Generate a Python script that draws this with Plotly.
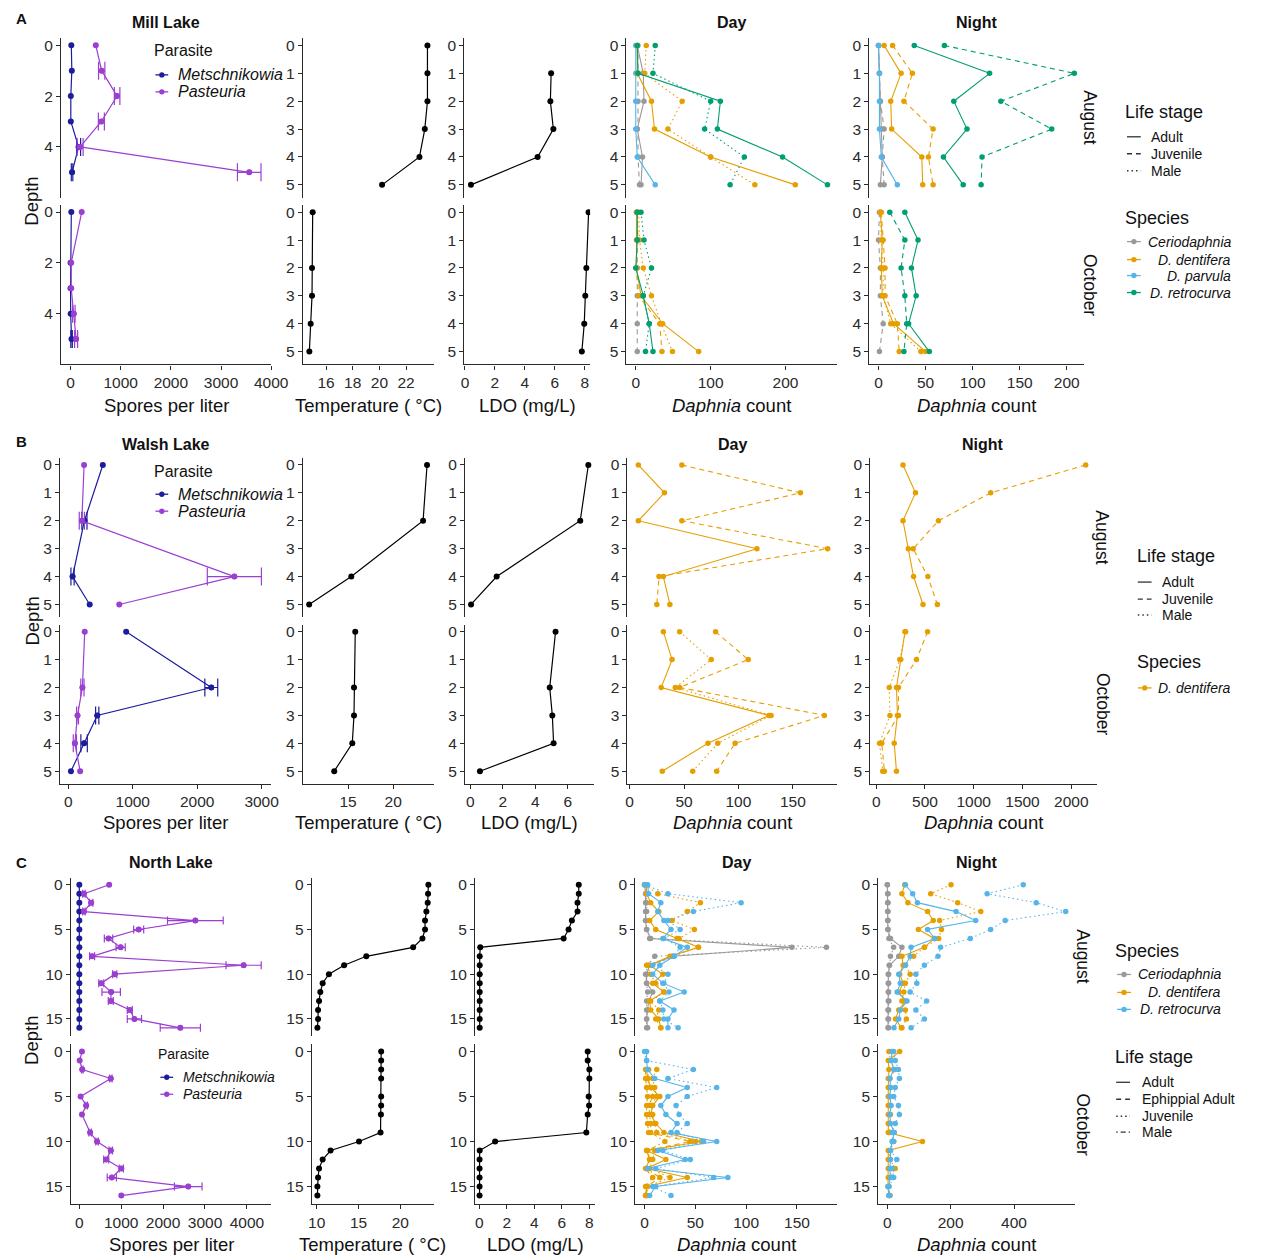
import plotly.graph_objects as go

# ------------------------------------------------------------------
# Depth-profile data
# ------------------------------------------------------------------
MILL_DEPTHS = [0, 1, 2, 3, 4, 5]
MILL_OCT_DEPTHS = [0, 2, 3, 4, 5]
MILL_AUG_LDO_DEPTHS = [1, 2, 3, 4, 5]

MILL_SPORES_AUG_METSCH = [15, 25, 5, 5, 160, 30]
MILL_SPORES_AUG_METSCH_SE = [0, 0, 0, 0, 40, 15]
MILL_SPORES_AUG_PAST = [503, 621, 928, 614, 190, 3562]
MILL_SPORES_AUG_PAST_SE = [0, 63, 55, 60, 60, 235]
MILL_SPORES_OCT_METSCH = [15, 0, 0, 2, 20]
MILL_SPORES_OCT_METSCH_SE = [0, 0, 0, 0, 15]
MILL_SPORES_OCT_PAST = [222, 13, 13, 65, 111]
MILL_SPORES_OCT_PAST_SE = [0, 0, 0, 25, 30]

MILL_TEMP_AUG = [23.6, 23.6, 23.6, 23.4, 23.0, 20.2]
MILL_TEMP_OCT = [15.0, 14.95, 14.95, 14.85, 14.75]
MILL_LDO_AUG = [5.75, 5.7, 5.9, 4.85, 0.4]
MILL_LDO_OCT = [8.25, 8.1, 8.03, 7.96, 7.8]

MILL_DAY_AUG = {
    ("Ceriodaphnia", "Adult"): [2, 10, 11, 2, 9, 7],
    ("Ceriodaphnia", "Juvenile"): [3, 3, 3, 2, 3, 5],
    ("D. parvula", "Adult"): [0, 0, 0, 0, 2, 26],
    ("D. dentifera", "Male"): [14, 12, 62, 43, 100, 159],
    ("D. dentifera", "Adult"): [2, 2, 21, 25, 100, 213],
    ("D. retrocurva", "Male"): [26, 23, 100, 92, 145, 126],
    ("D. retrocurva", "Adult"): [2, 3, 113, 109, 196, 256],
}
MILL_DAY_OCT = {
    ("Ceriodaphnia", "Juvenile"): [1, 2, 2, 2, 2, 2],
    ("D. dentifera", "Juvenile"): [2, 3, 1, 4, 32, 35],
    ("D. dentifera", "Male"): [4, 5, 10, 21, 34, 49],
    ("D. dentifera", "Adult"): [1, 1, 1, 7, 36, 84],
    ("D. retrocurva", "Male"): [7, 11, 21, 10, 18, 13],
    ("D. retrocurva", "Adult"): [2, 2, 0, 10, 18, 23],
}
MILL_NIGHT_AUG = {
    ("Ceriodaphnia", "Adult"): [0, 1, 2, 3, 4, 2],
    ("Ceriodaphnia", "Juvenile"): [0, 1, 2, 6, 4, 6],
    ("D. parvula", "Adult"): [0, 1, 1, 1, 3, 20],
    ("D. dentifera", "Adult"): [6, 24, 13, 14, 46, 47],
    ("D. dentifera", "Juvenile"): [15, 36, 27, 58, 53, 58],
    ("D. retrocurva", "Adult"): [38, 118, 80, 94, 69, 90],
    ("D. retrocurva", "Juvenile"): [70, 208, 130, 184, 110, 109],
}
MILL_NIGHT_OCT = {
    ("Ceriodaphnia", "Juvenile"): [1, 0, 2, 2, 5, 1],
    ("D. dentifera", "Male"): [2, 3, 5, 5, 13, 45],
    ("D. dentifera", "Juvenile"): [3, 5, 7, 7, 20, 22],
    ("D. dentifera", "Adult"): [2, 4, 3, 4, 16, 50],
    ("D. retrocurva", "Juvenile"): [12, 28, 24, 28, 30, 27],
    ("D. retrocurva", "Adult"): [28, 42, 35, 40, 32, 54],
}

WALSH_DEPTHS = [0, 1, 2, 3, 4, 5]
WALSH_AUG_DEPTHS = [0, 2, 4, 5]
WALSH_OCT_DEPTHS = [0, 2, 3, 4, 5]

WALSH_SPORES_AUG_METSCH = [536, 250, 66, 332]
WALSH_SPORES_AUG_METSCH_SE = [0, 40, 25, 0]
WALSH_SPORES_AUG_PAST = [245, 210, 2577, 791]
WALSH_SPORES_AUG_PAST_SE = [0, 40, 420, 0]
WALSH_SPORES_OCT_METSCH = [898, 2219, 449, 245, 41]
WALSH_SPORES_OCT_METSCH_SE = [0, 100, 25, 50, 0]
WALSH_SPORES_OCT_PAST = [255, 219, 143, 102, 184]
WALSH_SPORES_OCT_PAST_SE = [0, 25, 15, 25, 0]

WALSH_TEMP_AUG = [23.76, 23.32, 15.36, 10.69]
WALSH_TEMP_OCT = [15.8, 15.66, 15.66, 15.47, 13.47]
WALSH_LDO_AUG = [7.27, 6.77, 1.62, 0.04]
WALSH_LDO_OCT = [5.25, 4.89, 5.05, 5.13, 0.59]

WALSH_DAY_AUG = {
    ("D. dentifera", "Adult"): [8, 32, 8, 117, 31, 37],
    ("D. dentifera", "Juvenile"): [48, 157, 48, 182, 27, 25],
}
WALSH_DAY_OCT = {
    ("D. dentifera", "Adult"): [31, 39, 29, 128, 72, 30],
    ("D. dentifera", "Male"): [46, 75, 42, 130, 81, 58],
    ("D. dentifera", "Juvenile"): [79, 109, 46, 179, 97, 80],
}
WALSH_NIGHT_AUG = {
    ("D. dentifera", "Adult"): [275, 403, 275, 329, 383, 480],
    ("D. dentifera", "Juvenile"): [2148, 1174, 638, 379, 530, 627],
}
WALSH_NIGHT_OCT = {
    ("D. dentifera", "Adult"): [295, 252, 208, 218, 185, 208],
    ("D. dentifera", "Juvenile"): [527, 413, 228, 228, 57, 84],
    ("D. dentifera", "Male"): [302, 242, 134, 141, 34, 67],
}

NORTH_DEPTHS = [0, 1, 2, 3, 4, 5, 6, 7, 8, 9, 10, 11, 12, 13, 14, 15, 16]
NORTH_OCT_DEPTHS = [0, 1, 2, 3, 5, 6, 7, 9, 10, 11, 12, 13, 14, 15, 16]

NORTH_SPORES_AUG_METSCH = [0, 0, 0, 0, 0, 0, 0, 0, 0, 0, 0, 0, 0, 0, 0, 0, 0]
NORTH_SPORES_AUG_PAST = [712, 110, 282, 110, 2770, 1417, 697, 986, 305, 3922,
                         845, 524, 760, 751, 1205, 1315, 2411]
NORTH_SPORES_AUG_PAST_SE = [0, 30, 40, 30, 665, 120, 100, 110, 60, 420,
                            50, 60, 220, 60, 60, 170, 480]
NORTH_SPORES_OCT_PAST = [63, 8, 70, 751, 31, 164, 63, 258, 423, 751,
                         642, 1002, 775, 2600, 1002]
NORTH_SPORES_OCT_PAST_SE = [0, 0, 20, 30, 0, 30, 0, 30, 30, 40,
                            60, 50, 110, 330, 0]

NORTH_TEMP_AUG = [23.36, 23.32, 23.28, 23.12, 22.96, 22.96, 22.65, 21.54, 15.93,
                  13.28, 11.46, 10.71, 10.43, 10.28, 10.16, 10.16, 10.08]
NORTH_TEMP_OCT = [17.71, 17.71, 17.71, 17.71, 17.71, 17.71, 17.68, 17.64, 15.06,
                  11.66, 10.71, 10.28, 10.16, 10.08, 10.08]
NORTH_LDO_AUG = [7.23, 7.23, 7.14, 7.14, 6.73, 6.49, 6.13, 0.07, 0.03,
                 0.03, 0.03, 0.03, 0.03, 0.03, 0.03, 0.03, 0.03]
NORTH_LDO_OCT = [7.88, 7.88, 8.0, 8.0, 7.95, 7.98, 7.88, 7.78, 1.15,
                 0.03, 0.02, 0.02, 0.02, 0.02, 0.02]

NORTH_DAY_AUG = {
    ("Ceriodaphnia", "Adult"): [0, 1, 1, 1, 1, 2, 6, 145, 28, 5, 2, 2, 8, 4, 3, 2, 3],
    ("Ceriodaphnia", "Juvenile"): [0, 2, 2, 2, 1, 2, 5, 179, 10, 3, 1, 2, 3, 2, 2, 2, 2],
    ("D. dentifera", "Juvenile"): [0, 13, 55, 42, 27, 49, 34, 53, 27, 2, 6, 11, 19, 6, 14, 11, 16],
    ("D. dentifera", "Adult"): [2, 2, 6, 14, 5, 11, 32, 53, 25, 5, 18, 8, 19, 5, 6, 14, 16],
    ("D. retrocurva", "Juvenile"): [0, 23, 95, 48, 23, 35, 19, 35, 29, 8, 23, 19, 24, 15, 18, 19, 33],
    ("D. retrocurva", "Adult"): [3, 4, 16, 13, 19, 26, 18, 42, 29, 15, 8, 18, 39, 15, 29, 23, 23],
}
NORTH_DAY_OCT = {
    ("D. dentifera", "Ephippial Adult"): [None, None, 1, 1, 2, 3, 2, 2, 3, 4, 45, 2, 5, 1, 8, 1, 1],
    ("D. dentifera", "Juvenile"): [None, None, 12, 8, 10, 12, 7, 8, 10, 12, 50, 10, 8, 5, 25, 3, 2],
    ("D. dentifera", "Male"): [None, None, 4, 3, 6, 8, 4, 5, 6, 6, 20, 3, 5, 2, 15, 2, 1],
    ("D. dentifera", "Adult"): [None, None, 2, 3, 6, 15, 8, 6, 11, 19, 56, 2, 21, 2, 42, 2, 2],
    ("D. retrocurva", "Juvenile"): [0, 2, 48, 23, 71, 42, 31, 34, 42, 32, 58, 18, 45, 11, 68, 8, 26],
    ("D. retrocurva", "Adult"): [2, 2, 3, 10, 42, 23, 16, 21, 32, 26, 71, 13, 40, 3, 82, 11, 5],
}
NORTH_NIGHT_AUG = {
    ("Ceriodaphnia", "Adult"): [0, 1, 1, 1, 1, 2, 10, 46, 36, 7, 3, 3, 3, 3, 2, 2, 2],
    ("Ceriodaphnia", "Juvenile"): [0, 2, 2, 2, 2, 2, 5, 20, 10, 6, 4, 4, 4, 5, 4, 4, 4],
    ("D. dentifera", "Juvenile"): [201, 137, 222, 295, 165, 171, 162, 117, 83, 57, 72, 57, 52, 46, 57, 60, 46],
    ("D. dentifera", "Adult"): [55, 46, 65, 127, 145, 98, 148, 117, 46, 50, 39, 50, 36, 57, 36, 26, 44],
    ("D. retrocurva", "Juvenile"): [429, 315, 470, 563, 372, 326, 262, 168, 160, 117, 90, 93, 72, 124, 90, 117, 75],
    ("D. retrocurva", "Adult"): [57, 80, 95, 217, 279, 127, 150, 75, 72, 57, 36, 41, 31, 62, 41, 36, 21],
}
NORTH_NIGHT_OCT = {
    ("D. dentifera", "Juvenile"): [5, 10, 25, 8, 10, 5, 8, 10, 5, 8, 20, 5, 8, 25, 8, 5, 8],
    ("D. dentifera", "Adult"): [39, 3, 5, 3, 3, 3, 3, 3, 3, 3, 111, 3, 3, 3, 3, 2, 5],
    ("D. retrocurva", "Juvenile"): [20, 25, 35, 38, 25, 20, 35, 38, 25, 15, 20, 10, 30, 15, 20, 5, 8],
    ("D. retrocurva", "Adult"): [15, 12, 20, 8, 10, 8, 12, 8, 10, 22, 15, 10, 10, 8, 10, 2, 5],
}

# tick labels
TICKS_MILL_X = [[0, 1000, 2000, 3000, 4000], [16, 18, 20, 22], [0, 2, 4, 6, 8], [0, 100, 200], [0, 50, 100, 150, 200]]
TICKS_WALSH_X = [[0, 1000, 2000, 3000], [15, 20], [0, 2, 4, 6], [0, 50, 100, 150], [0, 500, 1000, 1500, 2000]]
TICKS_NORTH_X = [[0, 1000, 2000, 3000, 4000], [10, 15, 20], [0, 2, 4, 6, 8], [0, 50, 100, 150], [0, 200, 400]]
TICKS_DEPTH_5 = [0, 1, 2, 3, 4, 5]
TICKS_DEPTH_5_SPARSE = [0, 2, 4]
TICKS_DEPTH_16 = [0, 5, 10, 15]

# ------------------------------------------------------------------
# Styling
# ------------------------------------------------------------------
W, H = 1262, 1258
FONT = "Liberation Sans, Arial, Helvetica, sans-serif"
TXT = "#111111"
AXC = "#2b2b2b"
METSCH = "#1c1c9c"
PAST = "#9b3fd0"
SPECIES_COLORS = {"Ceriodaphnia": "#999999", "D. dentifera": "#E69F00",
                  "D. parvula": "#56B4E9", "D. retrocurva": "#009E73"}
NORTH_COLORS = {"Ceriodaphnia": "#999999", "D. dentifera": "#E69F00",
                "D. retrocurva": "#56B4E9"}
DASH3 = {"Adult": "solid", "Juvenile": "5px,4px", "Male": "1.5px,3px"}
DASH4 = {"Adult": "solid", "Ephippial Adult": "5px,4px", "Juvenile": "1.5px,3px",
         "Male": "1.5px,3px,5px,3px"}

GEOM = [
    dict(rows=[(36, 196), (203, 363)],
         cols=[(58, 272), (304, 437), (468, 596), (633, 847), (880, 1098)],
         xr=[[-190, 4006], [14.27, 24.07], [-0.05, 8.35], [-12.4, 268.6], [-9.7, 218]],
         yr=[[6.0, -0.29]] + [[5.46, -0.27]] * 4,
         ytv=[TICKS_DEPTH_5_SPARSE] + [TICKS_DEPTH_5] * 4,
         xtv=TICKS_MILL_X),
    dict(rows=[(457, 616), (624, 783)],
         cols=[(57, 272), (304, 437), (469, 600), (634, 847), (881, 1111)],
         xr=[[-128, 3153], [10.0, 24.5], [-0.32, 7.62], [-2, 190.5], [-60, 2259]],
         yr=[[5.45, -0.24]] * 5,
         ytv=[TICKS_DEPTH_5] * 5,
         xtv=TICKS_WALSH_X),
    dict(rows=[(877, 1036), (1044, 1204)],
         cols=[(68, 272), (313, 437), (479, 601), (642, 847), (889, 1089)],
         xr=[[-202, 4587], [9.41, 24.0], [-0.31, 8.41], [-9.1, 189.3], [-28.8, 592]],
         yr=[[16.95, -0.8]] * 5,
         ytv=[TICKS_DEPTH_16] * 5,
         xtv=TICKS_NORTH_X),
]

fig = go.Figure()
layout = {}


def ids(li, r, c):
    n = li * 10 + r * 5 + c + 1
    return ("x" if n == 1 else f"x{n}"), ("y" if n == 1 else f"y{n}"), n


for li, g in enumerate(GEOM):
    for r in range(2):
        for c in range(5):
            xid, yid, n = ids(li, r, c)
            x0, x1 = g["cols"][c]
            y0, y1 = g["rows"][r]
            bottom = r == 1
            layout["xaxis" if n == 1 else f"xaxis{n}"] = dict(
                domain=[x0 / W, x1 / W], anchor=yid, range=g["xr"][c],
                showgrid=False, zeroline=False, showline=bottom, linecolor=AXC,
                linewidth=1.2, ticks="outside" if bottom else "", ticklen=4,
                tickcolor=AXC, tickwidth=1.1, tickmode="array", tickvals=g["xtv"][c],
                showticklabels=bottom,
                tickfont=dict(size=15.5, family=FONT, color="#2a2a2a"))
            layout["yaxis" if n == 1 else f"yaxis{n}"] = dict(
                domain=[1 - y1 / H, 1 - y0 / H], anchor=xid, range=g["yr"][c],
                showgrid=False, zeroline=False, showline=True, linecolor=AXC,
                linewidth=1.2, ticks="outside", ticklen=4, tickcolor=AXC, tickwidth=1.1,
                tickmode="array", tickvals=g["ytv"][c],
                tickfont=dict(size=15.5, family=FONT, color="#2a2a2a"))


def add_line(li, r, c, xs, ys, color, dash="solid", size=5.5, width=1.2):
    xa, ya, _ = ids(li, r, c)
    fig.add_trace(go.Scatter(
        x=xs, y=ys, xaxis=xa, yaxis=ya, mode="lines+markers", connectgaps=False,
        line=dict(color=color, width=width, dash=dash),
        marker=dict(color=color, size=size), showlegend=False, hoverinfo="skip"))


def add_err(li, r, c, xs, ys, se, color, cap):
    xa, ya, _ = ids(li, r, c)
    keep = [(x, y, e) for x, y, e in zip(xs, ys, se) if e]
    if not keep:
        return
    fig.add_trace(go.Scatter(
        x=[k[0] for k in keep], y=[k[1] for k in keep], xaxis=xa, yaxis=ya,
        mode="markers", marker=dict(color=color, size=5.5),
        error_x=dict(type="data", array=[k[2] for k in keep], symmetric=True,
                     color=color, thickness=1.2, width=cap),
        showlegend=False, hoverinfo="skip"))


def add_spores(li, r, depths, vals, se, color, cap):
    add_line(li, r, 0, vals, depths, color, size=6)
    add_err(li, r, 0, vals, depths, se, color, cap)


def add_counts(li, r, c, depths, table, colors, dashes):
    for (sp, st), vals in table.items():
        add_line(li, r, c, vals, depths, colors[sp], dashes[st], size=5.5, width=1.1)


# Mill Lake
add_spores(0, 0, MILL_DEPTHS, MILL_SPORES_AUG_METSCH, MILL_SPORES_AUG_METSCH_SE, METSCH, 9)
add_spores(0, 0, MILL_DEPTHS, MILL_SPORES_AUG_PAST, MILL_SPORES_AUG_PAST_SE, PAST, 9)
add_spores(0, 1, MILL_OCT_DEPTHS, MILL_SPORES_OCT_METSCH, MILL_SPORES_OCT_METSCH_SE, METSCH, 9)
add_spores(0, 1, MILL_OCT_DEPTHS, MILL_SPORES_OCT_PAST, MILL_SPORES_OCT_PAST_SE, PAST, 9)
add_line(0, 0, 1, MILL_TEMP_AUG, MILL_DEPTHS, "#000000", size=6)
add_line(0, 1, 1, MILL_TEMP_OCT, MILL_OCT_DEPTHS, "#000000", size=6)
add_line(0, 0, 2, MILL_LDO_AUG, MILL_AUG_LDO_DEPTHS, "#000000", size=6)
add_line(0, 1, 2, MILL_LDO_OCT, MILL_OCT_DEPTHS, "#000000", size=6)
add_counts(0, 0, 3, MILL_DEPTHS, MILL_DAY_AUG, SPECIES_COLORS, DASH3)
add_counts(0, 1, 3, MILL_DEPTHS, MILL_DAY_OCT, SPECIES_COLORS, DASH3)
add_counts(0, 0, 4, MILL_DEPTHS, MILL_NIGHT_AUG, SPECIES_COLORS, DASH3)
add_counts(0, 1, 4, MILL_DEPTHS, MILL_NIGHT_OCT, SPECIES_COLORS, DASH3)

# Walsh Lake
add_spores(1, 0, WALSH_AUG_DEPTHS, WALSH_SPORES_AUG_METSCH, WALSH_SPORES_AUG_METSCH_SE, METSCH, 9)
add_spores(1, 0, WALSH_AUG_DEPTHS, WALSH_SPORES_AUG_PAST, WALSH_SPORES_AUG_PAST_SE, PAST, 9)
add_spores(1, 1, WALSH_OCT_DEPTHS, WALSH_SPORES_OCT_METSCH, WALSH_SPORES_OCT_METSCH_SE, METSCH, 9)
add_spores(1, 1, WALSH_OCT_DEPTHS, WALSH_SPORES_OCT_PAST, WALSH_SPORES_OCT_PAST_SE, PAST, 9)
add_line(1, 0, 1, WALSH_TEMP_AUG, WALSH_AUG_DEPTHS, "#000000", size=6)
add_line(1, 1, 1, WALSH_TEMP_OCT, WALSH_OCT_DEPTHS, "#000000", size=6)
add_line(1, 0, 2, WALSH_LDO_AUG, WALSH_AUG_DEPTHS, "#000000", size=6)
add_line(1, 1, 2, WALSH_LDO_OCT, WALSH_OCT_DEPTHS, "#000000", size=6)
add_counts(1, 0, 3, WALSH_DEPTHS, WALSH_DAY_AUG, SPECIES_COLORS, DASH3)
add_counts(1, 1, 3, WALSH_DEPTHS, WALSH_DAY_OCT, SPECIES_COLORS, DASH3)
add_counts(1, 0, 4, WALSH_DEPTHS, WALSH_NIGHT_AUG, SPECIES_COLORS, DASH3)
add_counts(1, 1, 4, WALSH_DEPTHS, WALSH_NIGHT_OCT, SPECIES_COLORS, DASH3)

# North Lake
add_spores(2, 0, NORTH_DEPTHS, NORTH_SPORES_AUG_METSCH, [], METSCH, 4)
add_spores(2, 0, NORTH_DEPTHS, NORTH_SPORES_AUG_PAST, NORTH_SPORES_AUG_PAST_SE, PAST, 4)
add_spores(2, 1, NORTH_OCT_DEPTHS, NORTH_SPORES_OCT_PAST, NORTH_SPORES_OCT_PAST_SE, PAST, 4)
add_line(2, 0, 1, NORTH_TEMP_AUG, NORTH_DEPTHS, "#000000", size=6)
add_line(2, 1, 1, NORTH_TEMP_OCT, NORTH_OCT_DEPTHS, "#000000", size=6)
add_line(2, 0, 2, NORTH_LDO_AUG, NORTH_DEPTHS, "#000000", size=6)
add_line(2, 1, 2, NORTH_LDO_OCT, NORTH_OCT_DEPTHS, "#000000", size=6)
add_counts(2, 0, 3, NORTH_DEPTHS, NORTH_DAY_AUG, NORTH_COLORS, DASH4)
add_counts(2, 1, 3, NORTH_DEPTHS, NORTH_DAY_OCT, NORTH_COLORS, DASH4)
add_counts(2, 0, 4, NORTH_DEPTHS, NORTH_NIGHT_AUG, NORTH_COLORS, DASH4)
add_counts(2, 1, 4, NORTH_DEPTHS, NORTH_NIGHT_OCT, NORTH_COLORS, DASH4)

# ------------------------------------------------------------------
# Text: titles, axis titles, strips, legends
# ------------------------------------------------------------------
annotations = []
shapes = []


def text(x, y, s, size, anchor="left", angle=0, color=TXT):
    annotations.append(dict(
        x=x / W, y=1 - y / H, xref="paper", yref="paper", text=s, showarrow=False,
        xanchor=anchor, yanchor="middle", textangle=angle,
        font=dict(size=size, family=FONT, color=color)))


def key(x0, x1, y, color, dash="solid", dot=True):
    shapes.append(dict(type="line", xref="paper", yref="paper", x0=x0 / W, x1=x1 / W,
                       y0=1 - y / H, y1=1 - y / H, line=dict(color=color, width=1.3, dash=dash)))
    if dot:
        xm, rr = (x0 + x1) / 2, 2.7
        shapes.append(dict(type="circle", xref="paper", yref="paper",
                           x0=(xm - rr) / W, x1=(xm + rr) / W,
                           y0=1 - (y + rr) / H, y1=1 - (y - rr) / H,
                           fillcolor=color, line=dict(width=0)))


LAKE_TITLES = ["Mill Lake", "Walsh Lake", "North Lake"]
PANEL_LETTERS = ["A", "B", "C"]
TITLE_Y = [21, 443, 862]
LETTER_Y = [17, 440, 862]
XTITLE_Y = [404, 822, 1244]
STRIP_X = [1105, 1117, 1097]
XTITLES = ["Spores per liter", "Temperature ( °C)", "LDO (mg/L)",
           "<i>Daphnia</i> count", "<i>Daphnia</i> count"]

for li, g in enumerate(GEOM):
    cx = [(a + b) / 2 for a, b in g["cols"]]
    text(18, LETTER_Y[li], "<b>" + PANEL_LETTERS[li] + "</b>", 15, anchor="center")
    text(cx[0], TITLE_Y[li], "<b>" + LAKE_TITLES[li] + "</b>", 16, anchor="center")
    text(cx[3], TITLE_Y[li], "<b>Day</b>", 16, anchor="center")
    text(cx[4], TITLE_Y[li], "<b>Night</b>", 16, anchor="center")
    for c in range(5):
        text(cx[c], XTITLE_Y[li], XTITLES[c], 18.5, anchor="center")
    r0, r1 = g["rows"]
    text(28, (r0[1] + r1[0]) / 2, "Depth", 18.5, anchor="center", angle=-90)
    text(STRIP_X[li], (r0[0] + r0[1]) / 2, "August", 17.5, anchor="center", angle=90)
    text(STRIP_X[li], (r1[0] + r1[1]) / 2, "October", 17.5, anchor="center", angle=90)

# Parasite legends
for (tx, ty, ky, size) in [(152, 49, (73, 90), 16), (152, 470, (493, 510), 16),
                           (157, 1054, (1077, 1094), 14)]:
    text(tx - 2, ty, "Parasite", size)
    key(tx + 2, tx + 15, ky[0], METSCH)
    key(tx + 2, tx + 15, ky[1], PAST)
    text(tx + 23, ky[0], "<i>Metschnikowia</i>", size)
    text(tx + 23, ky[1], "<i>Pasteuria</i>", size)

# Mill Lake legend
text(1138, 110, "Life stage", 18)
for y, st in zip([135, 152, 169], ["Adult", "Juvenile", "Male"]):
    key(1142, 1156, y, "#333333", DASH3[st], dot=False)
    text(1164, y, st, 14)
text(1138, 216, "Species", 18)
for y, sp in zip([240, 258, 274, 291], ["Ceriodaphnia", "D. dentifera", "D. parvula", "D. retrocurva"]):
    key(1142, 1156, y, SPECIES_COLORS[sp])
    text(1250, y, "<i>" + sp + "</i>", 14, anchor="right")

# Walsh Lake legend
text(1150, 555, "Life stage", 18)
for y, st in zip([581, 598, 614], ["Adult", "Juvenile", "Male"]):
    key(1153, 1167, y, "#333333", DASH3[st], dot=False)
    text(1176, y, st, 14)
text(1150, 661, "Species", 18)
key(1153, 1167, 687, SPECIES_COLORS["D. dentifera"])
text(1250, 687, "<i>D. dentifera</i>", 14, anchor="right")

# North Lake legend
text(1128, 951, "Species", 18)
for y, sp in zip([974, 992, 1009], ["Ceriodaphnia", "D. dentifera", "D. retrocurva"]):
    key(1132, 1146, y, NORTH_COLORS[sp])
    text(1240, y, "<i>" + sp + "</i>", 14, anchor="right")
text(1128, 1057, "Life stage", 18)
for y, st in zip([1082, 1099, 1116, 1132], ["Adult", "Ephippial Adult", "Juvenile", "Male"]):
    key(1131, 1145, y, "#333333", DASH4[st], dot=False)
    text(1155, y, st, 14)

# Width follows the page so the paper coordinates span the full viewport.
layout.update(dict(
    height=H, autosize=True,
    margin=dict(l=0, r=0, t=0, b=0, pad=0),
    paper_bgcolor="white", plot_bgcolor="rgba(0,0,0,0)",
    font=dict(family=FONT, color=TXT),
    annotations=annotations, shapes=shapes, showlegend=False))
fig.update_layout(**layout)

fig.write_html("out.html", default_width="100%", config={"responsive": True})
